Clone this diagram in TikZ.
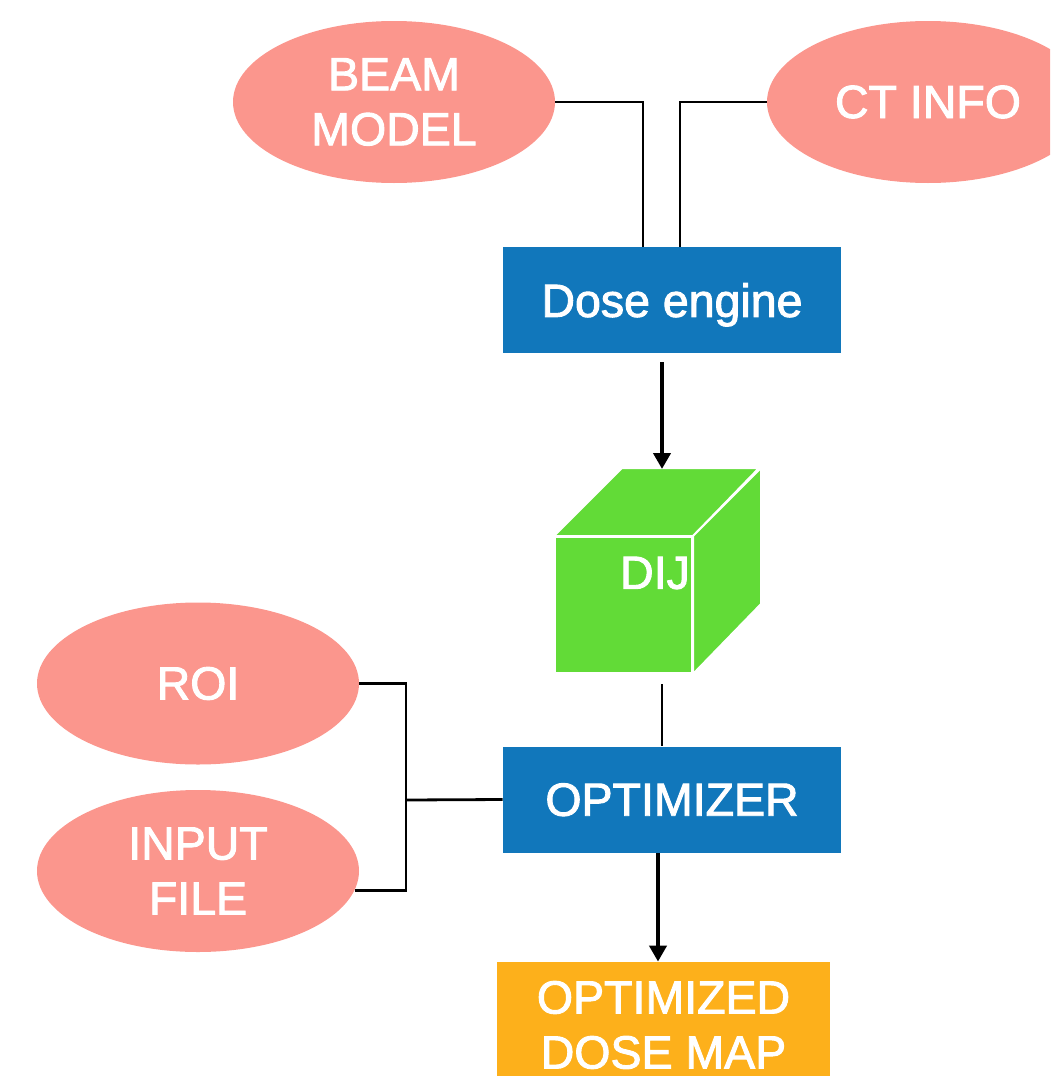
\documentclass[tikz,border=0pt]{standalone}
\usepackage{fontspec}
\setmainfont{Liberation Sans}
\newfontfamily\labelfamily{Liberation Sans}[FakeBold=2]
\usetikzlibrary{shapes.geometric,arrows.meta,calc}

\definecolor{salmon}{HTML}{FB968D}
\definecolor{boxblue}{HTML}{1177BB}
\definecolor{cubegreen}{HTML}{62DB37}
\definecolor{maporange}{HTML}{FDB01B}

\tikzset{
  labelfont/.style={font=\labelfamily\fontsize{23.25}{27.5}\selectfont, text=white},
  source/.style={ellipse, fill=salmon, minimum width=161pt, minimum height=81pt,
    inner sep=0pt, align=center, labelfont},
  process/.style={rectangle, fill=boxblue, minimum width=169pt, minimum height=53pt,
    inner sep=0pt, text depth=0pt, align=center, labelfont},
  result/.style={rectangle, fill=maporange, minimum width=166.5pt, minimum height=63pt,
    inner sep=0pt, align=center, labelfont},
  cubeface/.style={fill=cubegreen, draw=white, line width=1pt, line join=round},
  link/.style={draw=black, line width=1.4pt},
  flow/.style={draw=black, line width=2pt, -{Triangle[length=8pt,width=8.5pt]}}
}

\begin{document}
\begin{tikzpicture}[x=0.5pt, y=-0.5pt]
  \useasboundingbox (0,0) rectangle (1050,1076);
  \clip (0,0) rectangle (1050,1076);

  % inputs of the dose engine
  \node[source] (beam) at (394,102) {BEAM\\MODEL};
  \node[source] (ct)   at (928,102) {CT INFO};

  % processing stages
  \node[process] (dose) at (672,300)   {Dose engine};
  \node[process] (opt)  at (672,799.5) {OPTIMIZER};

  % dose influence matrix drawn as a cube
  \node[rectangle, cubeface, minimum width=68.5pt, minimum height=68pt, inner sep=0pt]
    (dij) at (623.5,605) {};
  \path[cubeface] (dij.north west) -- ++(68,-68) -- ++(137,0) -- (dij.north east) -- cycle;
  \path[cubeface] (dij.north east) -- ++(68,-68) -- ++(0,136) -- (dij.south east) -- cycle;
  \node[labelfont, inner sep=0pt] (dijtext) at (655,573) {DIJ};
  \coordinate (cubetop) at (662,469);

  % inputs of the optimizer
  \node[source] (roi)   at (198,683.5) {ROI};
  \node[source] (input) at (198,871)   {INPUT\\FILE};

  % output
  \node[result] (map) at (663.5,1025) {OPTIMIZED\\DOSE MAP};

  % connectors
  \draw[link] (beam.east) -| ([xshift=-14.5pt]dose.north);
  \draw[link] (ct.west)   -| ([xshift=4pt]dose.north);
  \draw[flow, shorten <=4.5pt] (dose.south -| cubetop) -- (cubetop);
  \draw[link, shorten <=5pt] (dij.south -| cubetop) -- (opt.north -| cubetop);

  \coordinate (junction) at (406,800);
  \draw[link] (roi.east) -| (junction);
  \draw[link] (input.-7.4) -| (junction);
  \draw[link] (junction) -- (opt.west);

  \draw[flow] ([xshift=-7pt]opt.south) -- ([xshift=-2.75pt]map.north);
\end{tikzpicture}
\end{document}
